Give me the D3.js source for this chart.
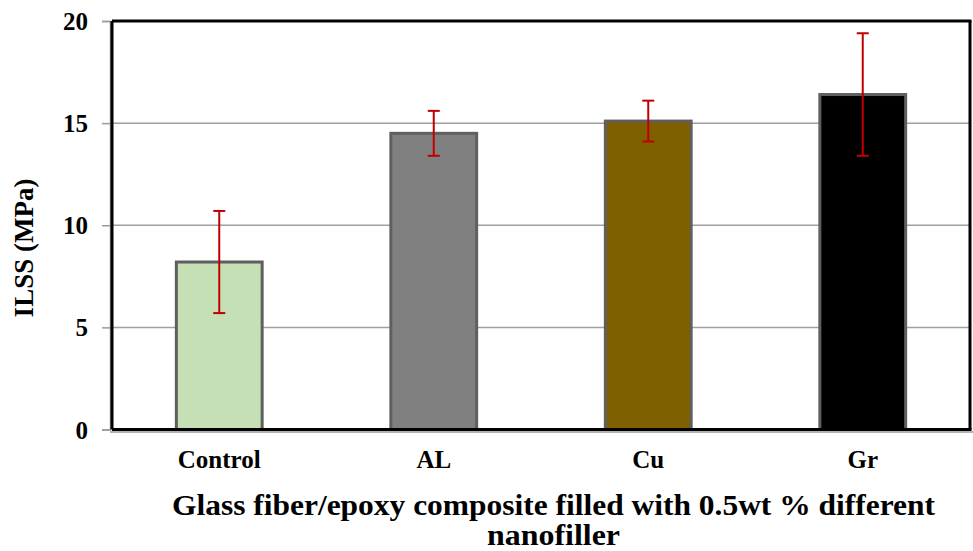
<!DOCTYPE html>
<html>
<head>
<meta charset="utf-8">
<script src="https://cdn.jsdelivr.net/npm/d3@7"></script>
<style>
  html, body { margin: 0; padding: 0; background: #fff; }
  svg { display: block; }
  .serif { font-family: 'Liberation Serif', 'Times New Roman', serif; font-weight: bold; fill: #000; }
</style>
</head>
<body>
<svg id="chart" width="973" height="551">
  <g id="titles">
    <text class="serif" x="553.5" y="515" text-anchor="middle" font-size="30"
          textLength="763" lengthAdjust="spacingAndGlyphs">Glass fiber/epoxy composite filled with 0.5wt % different</text>
    <text class="serif" x="553.5" y="545" text-anchor="middle" font-size="30"
          textLength="133" lengthAdjust="spacingAndGlyphs">nanofiller</text>
    <text class="serif" transform="translate(33,248) rotate(-90)" text-anchor="middle" font-size="27">ILSS (MPa)</text>
  </g>
</svg>
<script>
// ILSS of glass fiber/epoxy composites with different nanofillers
const categories = ["Control", "AL", "Cu", "Gr"];
const ilss = [8.2, 14.5, 15.1, 16.4];
const errors = [2.5, 1.1, 1.0, 3.0];
const fills = ["#c5e0b4", "#808080", "#7f6000", "#000000"];
const yTicks = [0, 5, 10, 15, 20];

const FONT = "'Liberation Serif', 'Times New Roman', serif";
const svg = d3.select("#chart");
const plotL = 112, plotR = 970, plotT = 21, plotB = 429.5;

const x = d3.scaleBand().domain(categories).range([plotL, plotR]).paddingInner(0.6).paddingOuter(0.3);
const y = d3.scaleLinear().domain([0, 20]).range([plotB, plotT]);

function serif(sel, size) {
  return sel.attr("class", "serif").style("font-family", FONT).style("font-weight", "bold")
    .style("font-size", size + "px").style("fill", "#000");
}

// gridlines
svg.append("g").selectAll("line").data(yTicks.filter(t => t > 0 && t < 20)).join("line")
  .attr("x1", plotL).attr("x2", plotR)
  .attr("y1", d => y(d)).attr("y2", d => y(d))
  .attr("stroke", "#a0a0a0").attr("stroke-width", 1.5);

// y axis with outward ticks
const yAxis = svg.append("g").attr("transform", `translate(${plotL - 2},0)`)
  .call(d3.axisLeft(y).tickValues(yTicks).tickSize(8).tickPadding(14).tickFormat(d3.format("d")));
yAxis.attr("font-family", null).attr("font-size", null);
yAxis.select(".domain").attr("stroke", "#9a9a9a").attr("stroke-width", 1.5);
yAxis.selectAll(".tick line").attr("stroke", "#9a9a9a").attr("stroke-width", 1.5);
serif(yAxis.selectAll(".tick text"), 25).attr("dy", "0.34em");

// bars
svg.append("g").selectAll("rect").data(categories).join("rect")
  .attr("x", d => x(d))
  .attr("y", (d, i) => y(ilss[i]))
  .attr("width", x.bandwidth())
  .attr("height", (d, i) => y(0) - y(ilss[i]))
  .attr("fill", (d, i) => fills[i])
  .attr("stroke", "#5f5f5f").attr("stroke-width", 3);

// error bars
const eb = svg.append("g").attr("stroke", "#c00000").attr("stroke-width", 2);
categories.forEach((c, i) => {
  const cx = x(c) + x.bandwidth() / 2;
  const hi = y(ilss[i] + errors[i]), lo = y(ilss[i] - errors[i]);
  eb.append("line").attr("x1", cx).attr("x2", cx).attr("y1", hi).attr("y2", lo);
  eb.append("line").attr("x1", cx - 6).attr("x2", cx + 6).attr("y1", hi).attr("y2", hi);
  eb.append("line").attr("x1", cx - 6).attr("x2", cx + 6).attr("y1", lo).attr("y2", lo);
});

// frame
const frame = svg.append("g").attr("fill", "none");
frame.append("line").attr("x1", plotL).attr("x2", plotR + 1.5).attr("y1", plotT).attr("y2", plotT)
  .attr("stroke", "#000").attr("stroke-width", 3);
frame.append("line").attr("x1", plotR).attr("x2", plotR).attr("y1", plotT).attr("y2", plotB)
  .attr("stroke", "#000").attr("stroke-width", 3);
frame.append("line").attr("x1", plotL).attr("x2", plotL).attr("y1", plotT).attr("y2", plotB)
  .attr("stroke", "#000").attr("stroke-width", 3);
frame.append("line").attr("x1", plotL).attr("x2", plotR + 1.5).attr("y1", plotB).attr("y2", plotB)
  .attr("stroke", "#000").attr("stroke-width", 3);
frame.append("line").attr("x1", plotL - 2).attr("x2", 973).attr("y1", plotB + 2.5).attr("y2", plotB + 2.5)
  .attr("stroke", "#9a9a9a").attr("stroke-width", 1.5);

// category labels
serif(svg.append("g").selectAll("text").data(categories).join("text"), 25)
  .attr("x", d => x(d) + x.bandwidth() / 2)
  .attr("y", 468)
  .attr("text-anchor", "middle")
  .text(d => d);
</script>
</body>
</html>
